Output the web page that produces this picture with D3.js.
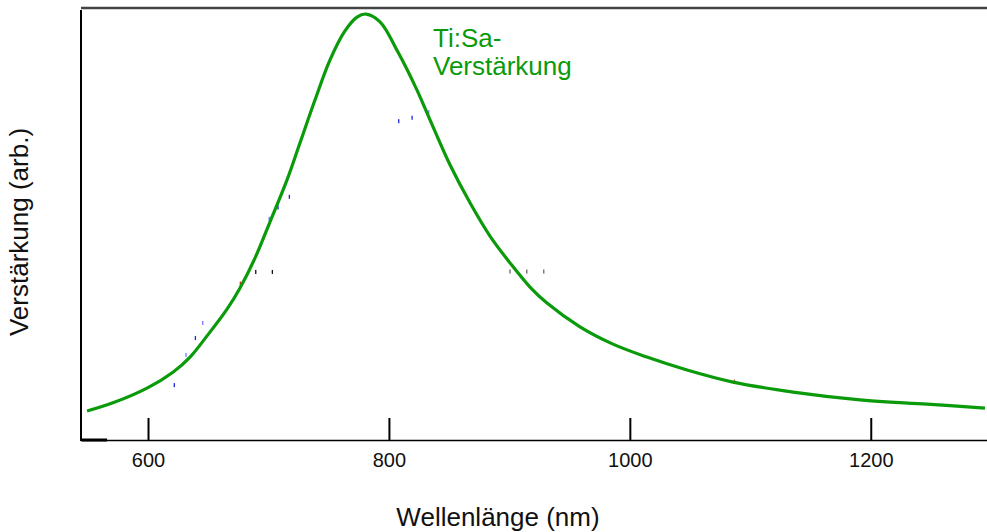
<!DOCTYPE html>
<html>
<head>
<meta charset="utf-8">
<script src="https://cdn.jsdelivr.net/npm/d3@7/dist/d3.min.js"></script>
<style>
  html, body { margin: 0; padding: 0; background: #fff; }
  svg { display: block; font-family: "Liberation Sans", Arial, Helvetica, sans-serif; }
</style>
</head>
<body>
<svg id="chart" width="987" height="532"></svg>
<script>
// Ti:Sapphire gain curve, wavelength in nm vs. gain in arbitrary units
const wavelength = [549.4, 570.9, 599.2, 620.7, 634.9, 649.0, 665.6, 676.4, 688.8, 701.3, 715.4, 726.2, 738.6,
                    751.1, 763.5, 773.5, 781.0, 792.6, 807.5, 823.3, 834.1, 850.7, 867.3, 883.9, 900.5, 917.1,
                    931.2, 958.6, 986.0, 1014.2, 1047.5, 1085.6, 1135.5, 1191.1, 1246.7, 1294.8];
const gain = [6.7, 8.6, 12.0, 15.7, 19.2, 24.1, 30.3, 35.2, 42.1, 50.5, 60.2, 68.8, 78.7,
              88.0, 94.7, 97.9, 98.6, 96.8, 89.8, 81.0, 74.1, 63.7, 54.9, 47.2, 41.0, 35.4,
              31.7, 26.2, 22.2, 19.2, 16.2, 13.4, 11.1, 9.3, 8.3, 7.4];

// small stray sample marks scattered around the curve
const markNm    = [717.3, 707.9, 700.5, 689.4, 703.2, 676.6, 645.4, 639.3, 631.5, 621.8, 808.1, 819.2, 833.0, 900.5, 914.4, 928.5, 1086.8];
const markGain  = [56.3, 53.8, 51.2, 38.9, 38.9, 36.2, 27.1, 23.6, 19.7, 12.7, 73.8, 74.6, 75.9, 39.0, 39.0, 39.0, 13.5];
const markColor = ["#2222dd", "#2222dd", "#7777ff", "#111111", "#111111", "#dd2222", "#7777ff", "#2222dd", "#7777ff",
                   "#2222dd", "#2222dd", "#2222dd", "#7777ff", "#666666", "#666666", "#666666", "#cc3311"];

const xTicks = [600, 800, 1000, 1200];
const xTitle = "Wellenlänge (nm)";
const yTitle = "Verstärkung (arb.)";
const curveLabel = ["Ti:Sa-", "Verstärkung"];

const svg = d3.select("#chart");
const plotLeft = 82, plotRight = 987, plotTop = 10, plotBottom = 440;

const x = d3.scaleLinear().domain([545.2, 1296.5]).range([plotLeft, plotRight]);
const y = d3.scaleLinear().domain([0, 100]).range([plotBottom, 8]);

const green = "#0a9a0a";

// top frame line
svg.append("line")
  .attr("x1", plotLeft - 1).attr("x2", plotRight).attr("y1", 8).attr("y2", 8)
  .attr("stroke", "#444").attr("stroke-width", 2.4);

// left axis line
svg.append("line")
  .attr("x1", plotLeft - 1).attr("x2", plotLeft - 1).attr("y1", plotTop).attr("y2", plotBottom + 1)
  .attr("stroke", "#000").attr("stroke-width", 2);

// bottom axis with inward ticks
const xAxis = d3.axisBottom(x)
  .tickValues(xTicks)
  .tickFormat(d3.format("d"))
  .tickSizeInner(-22)
  .tickSizeOuter(0)
  .tickPadding(13);

const gx = svg.append("g")
  .attr("transform", `translate(0,${plotBottom})`)
  .call(xAxis);
gx.select(".domain").attr("stroke", "#000").attr("stroke-width", 1.6);
gx.selectAll(".tick line").attr("stroke", "#000").attr("stroke-width", 2);
gx.selectAll(".tick text")
  .attr("fill", "#111")
  .style("font-family", "'Liberation Sans', Arial, sans-serif")
  .style("font-size", "20px");

// short heavy segment at the axis origin
svg.append("line")
  .attr("x1", plotLeft - 1).attr("x2", x(566)).attr("y1", plotBottom).attr("y2", plotBottom)
  .attr("stroke", "#000").attr("stroke-width", 3);

// stray marks
svg.append("g").selectAll("rect")
  .data(markNm.map((n, i) => ({ n, g: markGain[i], c: markColor[i] })))
  .join("rect")
  .attr("x", d => x(d.n) - 0.6)
  .attr("y", d => y(d.g) - 2)
  .attr("width", 1.3)
  .attr("height", 4)
  .attr("fill", d => d.c);

// gain curve
const line = d3.line()
  .x((d, i) => x(wavelength[i]))
  .y(d => y(d))
  .curve(d3.curveCatmullRom.alpha(0.5));

svg.append("path")
  .datum(gain)
  .attr("d", line)
  .attr("fill", "none")
  .attr("stroke", green)
  .attr("stroke-width", 3.2)
  .attr("stroke-linejoin", "round");

// curve label
const lab = svg.append("text")
  .attr("x", 433).attr("y", 47)
  .attr("fill", green)
  .style("font-size", "26px");
lab.selectAll("tspan")
  .data(curveLabel)
  .join("tspan")
  .attr("x", 433)
  .attr("dy", (d, i) => i === 0 ? 0 : 28)
  .text(d => d);

// axis titles
svg.append("text")
  .attr("x", 498).attr("y", 526)
  .attr("text-anchor", "middle")
  .attr("fill", "#111")
  .style("font-size", "26px")
  .text(xTitle);

svg.append("text")
  .attr("transform", "translate(28,232) rotate(-90)")
  .attr("text-anchor", "middle")
  .attr("fill", "#111")
  .style("font-size", "26px")
  .text(yTitle);
</script>
</body>
</html>
